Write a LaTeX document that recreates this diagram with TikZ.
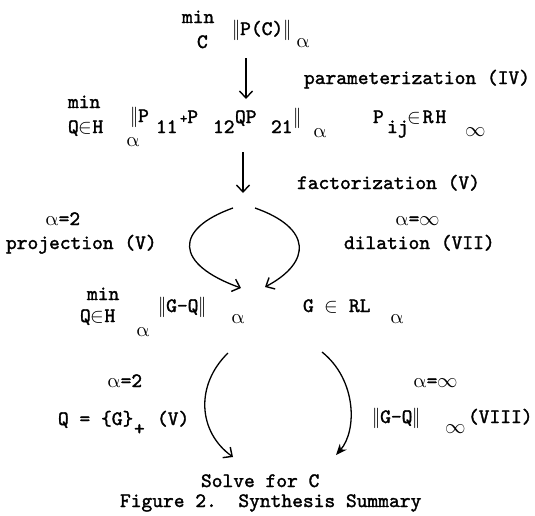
\documentclass[tikz,border=0pt]{standalone}
\usepackage{unicode-math}
\setmonofont{lmmono10-regular.otf}[FakeBold=1.6]
\usetikzlibrary{arrows.meta}
\newcommand{\tfont}{\fontsize{20.5}{23}\selectfont\ttfamily}
\newcommand{\al}{$\upalpha$}
\tikzset{
  t/.style={anchor=base west, inner sep=0pt, outer sep=0pt, font=\tfont},
  ar/.style={line width=1.3pt, -{Straight Barb[length=7pt,width=13pt,line width=1.4pt]}},
  arf/.style={line width=1.3pt, -{Stealth[length=11pt,width=9pt]}},
}
\begin{document}
\begin{tikzpicture}[x=1pt,y={(0pt,-1pt)}]
\useasboundingbox (0,0) rectangle (535,515);
% row 1
\node[t] (m1) at (182,23) {min};
\node[t] (c1) at (197,48) {C};
\node[t] (n1) at (232,35) {$\|$P(C)$\|$};
\node[t] (a1) at (296,47) {\al};
% row 2
\node[t] (m2) at (68,108) {min};
\node[t] (q2) at (68,133) {Q$\in$H};
\node[t] (a2) at (126,146) {\al};
\node[t] (p2a) at (130,122) {$\|$P};
\node[t] (s2a) at (156,133) {11};
\node[t] (p2b) at (180,123) {{\fontsize{14}{14}\selectfont+}P};
\node[t] (s2b) at (213,133) {12};
\node[t] (p2c) at (235,123) {QP};
\node[t] (s2c) at (271,133) {21};
\node[t] (n2) at (293,123) {$\|$};
\node[t] (a2b) at (313,137) {\al};
\node[t] (p2d) at (373,123) {P};
\node[t] (s2d) at (387,133) {ij};
\node[t] (r2) at (407,123) {$\in$\kern2ptR\kern2ptH};
\node[t] (i2) at (465,136) {$\infty$};
% row 3
\node[t] (m3) at (87,300) {min};
\node[t] (q3) at (80,322) {Q$\in$H};
\node[t] (a3) at (136,336) {\al};
\node[t] (n3) at (158,312) {$\|$G-Q$\|$};
\node[t] (a3b) at (231,323) {\al};
\node[t] (g3) at (303,312) {G $\in$ RL};
\node[t] (a3c) at (390,323) {\al};
% labels
\node[t] (lp) at (304,84) {parameterization (IV)};
\node[t] (lf) at (297,189) {factorization (V)};
\node[t] (la2) at (45,225) {\al=2};
\node[t] (lpr) at (6,249) {projection (V)};
\node[t] (lai) at (395,225) {\al=$\infty$};
\node[t] (ldi) at (344,249) {dilation (VII)};
\node[t] (lb2) at (107,387) {\al=2};
\node[t] (lbi) at (413,387) {\al=$\infty$};
\node[t] (qg) at (58,425) {Q = \{G\}};
\node[t] (pl) at (134,435) {+};
\node[t] (v5) at (157,425) {(V)};
\node[t] (gq) at (372,423) {$\|$G-Q$\|$};
\node[t] (inf) at (445,433) {$\infty$};
\node[t] (v8) at (468,423) {(VIII)};
\node[t] (solve) at (201,487) {Solve for C};
\node[t] (fig) at (120,507) {Figure 2.\ \ Synthesis Summary};
% arrows
\coordinate (t1) at (246,58); \coordinate (h1) at (246,99);
\draw[ar] (t1) -- (h1);
\coordinate (t2) at (243,152); \coordinate (h2) at (243,193);
\draw[ar] (t2) -- (h2);
\coordinate (ls) at (233,208); \coordinate (le) at (241,288);
\draw[ar] (ls) .. controls (174,229) and (174,264) .. (le);
\coordinate (rs) at (255,208); \coordinate (re) at (265,287);
\draw[ar] (rs) .. controls (312,228) and (312,262) .. (re);
\coordinate (bls) at (228,353); \coordinate (ble) at (233,457);
\draw[ar] (bls) .. controls (195,385) and (198,432) .. (ble);
\coordinate (brs) at (322,352); \coordinate (bre) at (336,455);
\draw[arf] (brs) .. controls (357,380) and (357,431) .. (bre);
\end{tikzpicture}
\end{document}
